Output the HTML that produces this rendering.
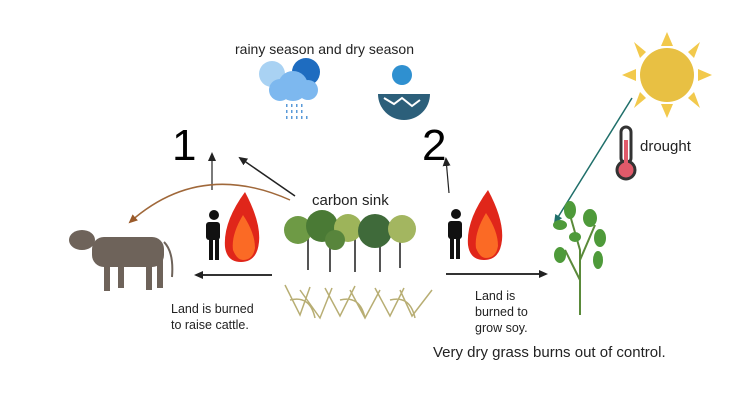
<!DOCTYPE html>
<html><head><meta charset="utf-8"><style>
html,body{margin:0;padding:0;background:#fff;}
svg{display:block;font-family:"Liberation Sans",sans-serif;}
</style></head><body>
<svg width="755" height="404" viewBox="0 0 755 404" xmlns="http://www.w3.org/2000/svg">
<defs>
<marker id="a" markerUnits="userSpaceOnUse" markerWidth="9" markerHeight="8" refX="7" refY="4" orient="auto"><path d="M0,0 L9,4 L0,8 z" fill="#222"/></marker>
<marker id="b" markerUnits="userSpaceOnUse" markerWidth="9" markerHeight="8" refX="7" refY="4" orient="auto"><path d="M0,0 L9,4 L0,8 z" fill="#9a5a2a"/></marker>
<marker id="c" markerUnits="userSpaceOnUse" markerWidth="9" markerHeight="8" refX="7" refY="4" orient="auto"><path d="M0,0 L9,4 L0,8 z" fill="#1f6f6a"/></marker>
</defs>
<text x="235" y="54" font-size="14" fill="#222">rainy season and dry season</text>
<!-- clouds -->
<circle cx="272" cy="74" r="13" fill="#a9d2f3"/><circle cx="306" cy="72" r="14" fill="#1e6cc0"/>
<circle cx="293" cy="86" r="15" fill="#7db8ef"/><circle cx="280" cy="90" r="11" fill="#7db8ef"/><circle cx="308" cy="90" r="10" fill="#7db8ef"/>
<g fill="#5a9ad8"><rect x="286" y="104" width="1.5" height="3"/><rect x="291" y="104" width="1.5" height="3"/><rect x="296" y="104" width="1.5" height="3"/><rect x="301" y="104" width="1.5" height="3"/>
<rect x="286" y="110" width="1.5" height="3"/><rect x="291" y="110" width="1.5" height="3"/><rect x="296" y="110" width="1.5" height="3"/><rect x="301" y="110" width="1.5" height="3"/>
<rect x="286" y="116" width="1.5" height="3"/><rect x="291" y="116" width="1.5" height="3"/><rect x="296" y="116" width="1.5" height="3"/><rect x="301" y="116" width="1.5" height="3"/><rect x="306" y="116" width="1.5" height="3"/></g>
<!-- dry sun -->
<circle cx="402" cy="75" r="10" fill="#2f90d0"/>
<path d="M378,94 h52 a26,26 0 0 1 -52,0z" fill="#2c5f7a"/>
<path d="M384,98 l10,6 l8,-6 l10,8 l8,-6" stroke="#fff" fill="none" stroke-width="2"/>
<!-- big sun -->
<g fill="#f2c94c"><polygon points="667,32 673,46 661,46"/><polygon points="667,118 673,104 661,104"/><polygon points="622,75 636,69 636,81"/><polygon points="712,75 698,69 698,81"/>
<polygon points="634,42 646,52 640,58"/><polygon points="700,42 688,52 694,58"/><polygon points="634,108 646,98 640,92"/><polygon points="700,108 688,98 694,92"/></g>
<circle cx="667" cy="75" r="27" fill="#e8c043"/>
<!-- thermometer -->
<rect x="621" y="127" width="10" height="36" rx="5" fill="#fff" stroke="#333" stroke-width="3"/>
<circle cx="626" cy="170" r="9" fill="#e05a6a" stroke="#333" stroke-width="3"/>
<rect x="624" y="140" width="4" height="28" fill="#e05a6a"/>
<text x="640" y="151" font-size="15" fill="#222">drought</text>
<line x1="632" y1="98" x2="555" y2="222" stroke="#1f6f6a" stroke-width="1.5" marker-end="url(#c)"/>
<!-- numbers -->
<text x="172" y="160" font-size="44" fill="#000">1</text>
<text x="422" y="160" font-size="44" fill="#000">2</text>
<!-- arrows -->
<line x1="212" y1="190" x2="212" y2="154" stroke="#222" stroke-width="1.2" marker-end="url(#a)"/>
<line x1="295" y1="196" x2="240" y2="158" stroke="#222" stroke-width="1.5" marker-end="url(#a)"/>
<line x1="449" y1="193" x2="446" y2="159" stroke="#222" stroke-width="1.2" marker-end="url(#a)"/>
<path d="M290,200 Q200,160 130,222" stroke="#a0683a" stroke-width="1.5" fill="none" marker-end="url(#b)"/>
<line x1="272" y1="275" x2="196" y2="275" stroke="#333" stroke-width="2" marker-end="url(#a)"/>
<line x1="446" y1="274" x2="546" y2="274" stroke="#333" stroke-width="2" marker-end="url(#a)"/>
<text x="312" y="205" font-size="15" fill="#222">carbon sink</text>
<!-- cow -->
<g fill="#6e635a"><rect x="92" y="237" width="72" height="30" rx="12"/><ellipse cx="82" cy="240" rx="13" ry="10"/>
<rect x="104" y="258" width="6" height="33"/><rect x="118" y="258" width="6" height="30"/><rect x="146" y="258" width="6" height="32"/><rect x="157" y="258" width="6" height="30"/>
<path d="M164,242 q10,10 8,35" stroke="#6e635a" stroke-width="2" fill="none"/></g>
<!-- people & fires -->
<g fill="#111"><circle cx="214" cy="215" r="5"/><rect x="206" y="222" width="14" height="18" rx="3"/><rect x="209" y="238" width="4" height="22"/><rect x="215" y="238" width="4" height="22"/>
<circle cx="456" cy="214" r="5"/><rect x="448" y="221" width="14" height="18" rx="3"/><rect x="450" y="237" width="4" height="22"/><rect x="456" y="237" width="4" height="22"/></g>
<path d="M245,192 q-22,30 -20,55 q2,15 16,15 q16,0 18,-20 q2,-20 -14,-50z" fill="#e0261a"/>
<path d="M243,215 q-12,20 -10,35 q4,10 10,10 q10,0 12,-12 q0,-15 -12,-33z" fill="#fb6a25"/>
<path d="M488,190 q-22,30 -20,55 q2,15 16,15 q16,0 18,-20 q2,-20 -14,-50z" fill="#e0261a"/>
<path d="M486,213 q-12,20 -10,35 q4,10 10,10 q10,0 12,-12 q0,-15 -12,-33z" fill="#fb6a25"/>
<!-- trees -->
<g stroke="#555" stroke-width="2"><line x1="308" y1="235" x2="308" y2="270"/><line x1="330" y1="235" x2="330" y2="272"/><line x1="355" y1="235" x2="355" y2="272"/><line x1="380" y1="235" x2="380" y2="272"/><line x1="400" y1="235" x2="400" y2="268"/></g>
<circle cx="298" cy="230" r="14" fill="#6e9a45"/><circle cx="322" cy="226" r="16" fill="#4a7a35"/><circle cx="348" cy="228" r="14" fill="#9db45a"/><circle cx="375" cy="231" r="17" fill="#3f6a3a"/><circle cx="402" cy="229" r="14" fill="#a3b660"/><circle cx="335" cy="240" r="10" fill="#58853c"/>
<!-- grass -->
<g stroke="#b8ae74" stroke-width="1.5" fill="none">
<path d="M285,285 l15,30 l10,-28 M300,290 l20,28 l12,-30 M325,288 l15,28 l15,-30 M350,290 l15,28 l15,-28 M375,288 l15,28 l14,-28 M400,290 l12,26 l20,-26 M290,300 q20,-5 25,18 M340,300 q20,-5 25,18 M390,300 q20,-5 25,18"/></g>
<!-- soy -->
<g stroke="#5a8a3a" stroke-width="2" fill="none"><path d="M580,315 L580,250 L570,215 M580,260 L595,225 M580,280 L565,250"/></g>
<g fill="#4e9a3a"><ellipse cx="570" cy="210" rx="6" ry="9"/><ellipse cx="560" cy="225" rx="7" ry="5"/><ellipse cx="590" cy="218" rx="7" ry="9"/><ellipse cx="600" cy="238" rx="6" ry="9"/><ellipse cx="560" cy="255" rx="6" ry="8"/><ellipse cx="575" cy="237" rx="6" ry="5"/><ellipse cx="598" cy="260" rx="5" ry="9"/></g>
<!-- labels -->
<text x="171" y="313" font-size="12.5" fill="#222">Land is burned</text>
<text x="171" y="329" font-size="12.5" fill="#222">to raise cattle.</text>
<text x="475" y="300" font-size="12.5" fill="#222">Land is</text>
<text x="475" y="316" font-size="12.5" fill="#222">burned to</text>
<text x="475" y="332" font-size="12.5" fill="#222">grow soy.</text>
<text x="433" y="357" font-size="15" fill="#222">Very dry grass burns out of control.</text>
</svg>
</body></html>
